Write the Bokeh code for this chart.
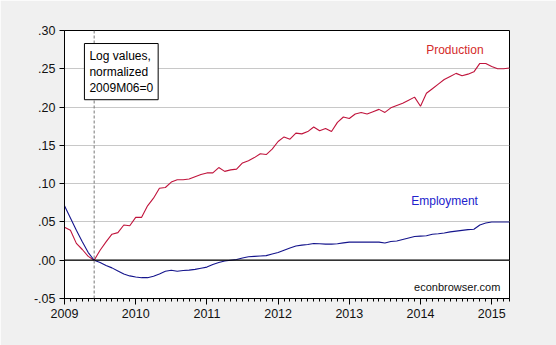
from bokeh.plotting import figure
from bokeh.models import (Range1d, FixedTicker, CustomJSTickFormatter, Span, Label,
                          ColumnDataSource)
from bokeh.embed import file_html
from bokeh.resources import INLINE

# Monthly observations 2009M01 .. 2015M04 (log values, normalized 2009M06 = 0)
start_year = 2009
n_months = 76
production = [
    0.043, 0.039, 0.022, 0.014, 0.005, 0.000, 0.013, 0.024, 0.034, 0.036, 0.046, 0.045,
    0.056, 0.056, 0.071, 0.081, 0.094, 0.095, 0.102, 0.105, 0.105, 0.106, 0.109, 0.112,
    0.114, 0.114, 0.121, 0.116, 0.118, 0.119, 0.127, 0.130, 0.134, 0.139, 0.138, 0.145,
    0.155, 0.161, 0.158, 0.166, 0.165, 0.168, 0.174, 0.169, 0.172, 0.168, 0.180, 0.187,
    0.185, 0.191, 0.193, 0.191, 0.194, 0.197, 0.193, 0.199, 0.202, 0.205, 0.209, 0.213,
    0.201, 0.218, 0.224, 0.230, 0.236, 0.240, 0.244, 0.241, 0.243, 0.246, 0.257, 0.257,
    0.253, 0.250, 0.250, 0.251,
]
employment = [
    0.071, 0.055, 0.039, 0.024, 0.010, 0.000, -0.003, -0.007, -0.010, -0.014, -0.018, -0.0205,
    -0.022, -0.0228, -0.0228, -0.021, -0.018, -0.0145, -0.013, -0.0145, -0.0135, -0.013, -0.012, -0.0105,
    -0.009, -0.0055, -0.003, -0.001, 0.000, 0.001, 0.003, 0.0045, 0.005, 0.0055, 0.006, 0.008,
    0.010, 0.013, 0.016, 0.0185, 0.0197, 0.0205, 0.0218, 0.0215, 0.021, 0.021, 0.0215, 0.0227,
    0.0236, 0.0236, 0.0236, 0.0236, 0.0236, 0.0236, 0.0225, 0.0245, 0.025, 0.027, 0.029, 0.031,
    0.0315, 0.032, 0.034, 0.0345, 0.0355, 0.037, 0.038, 0.039, 0.040, 0.0405, 0.046, 0.0485,
    0.050, 0.050, 0.050, 0.050,
]
year_ticks = [2009, 2010, 2011, 2012, 2013, 2014, 2015]
y_ticks = [-0.05, 0.0, 0.05, 0.10, 0.15, 0.20, 0.25, 0.30]
base_period = 2009 + 5 / 12  # 2009M06

t = [start_year + i / 12 for i in range(n_months)]
src = ColumnDataSource(dict(t=t, prod=production, emp=employment))

FONT = "Liberation Sans"
BG = "#f0f0f0"

p = figure(width=556, height=345, output_backend="svg", toolbar_location=None,
           x_range=Range1d(2009, 2015.25), y_range=Range1d(-0.05, 0.30),
           min_border_left=64, min_border_right=47, min_border_top=30, min_border_bottom=47,
           background_fill_color="white", border_fill_color=BG)
p.outline_line_color = "black"
p.outline_line_width = 1

# axes
p.xaxis.ticker = FixedTicker(ticks=year_ticks, minor_ticks=t)
p.xaxis.major_tick_out = 6
p.xaxis.major_tick_in = 0
p.xaxis.minor_tick_out = 3
p.xaxis.minor_tick_in = 0
p.xaxis.major_label_standoff = 4
p.yaxis.ticker = FixedTicker(ticks=y_ticks)
p.yaxis.formatter = CustomJSTickFormatter(code="return tick.toFixed(2).replace('0.', '.');")
p.yaxis.major_tick_out = 5
p.yaxis.major_tick_in = 0
p.yaxis.major_label_standoff = 4
for ax in (p.xaxis, p.yaxis):
    ax.axis_line_color = "black"
    ax.major_tick_line_color = "black"
    ax.major_label_text_font = FONT
    ax.major_label_text_font_size = "12.5px"
    ax.major_label_text_color = "#111111"
p.xaxis.minor_tick_line_color = "black"
p.yaxis.minor_tick_line_color = None

p.xgrid.grid_line_color = None
p.ygrid.grid_line_color = "#c8c8c8"
p.ygrid.grid_line_width = 1

# reference lines
p.add_layout(Span(location=0, dimension="width", line_color="black", line_width=1.3))
p.add_layout(Span(location=base_period, dimension="height", line_color="#777777",
                  line_width=1, line_dash="3 2"))

# series
p.line("t", "prod", source=src, line_color="#c0143c", line_width=1.1)
p.line("t", "emp", source=src, line_color="#14148c", line_width=1.1)

# annotations
p.add_layout(Label(x=2009.28, y=0.283, text="Log values,\nnormalized\n2009M06=0",
                   text_font=FONT, text_font_size="12px", text_color="black",
                   text_align="left", text_baseline="top", text_line_height=1.15,
                   background_fill_color="white", border_line_color="black",
                   border_line_width=1, padding=5))
p.add_layout(Label(x=2014.08, y=0.2745, text="Production", text_font=FONT,
                   text_font_size="12px", text_color="#d42a2a", text_baseline="middle"))
p.add_layout(Label(x=2013.87, y=0.077, text="Employment", text_font=FONT,
                   text_font_size="12px", text_color="#2222cc", text_baseline="middle"))
p.add_layout(Label(x=2013.91, y=-0.035, text="econbrowser.com", text_font=FONT,
                   text_font_size="11px", text_color="#111111", text_baseline="middle"))

open("out.html", "w").write(file_html(p, INLINE))
